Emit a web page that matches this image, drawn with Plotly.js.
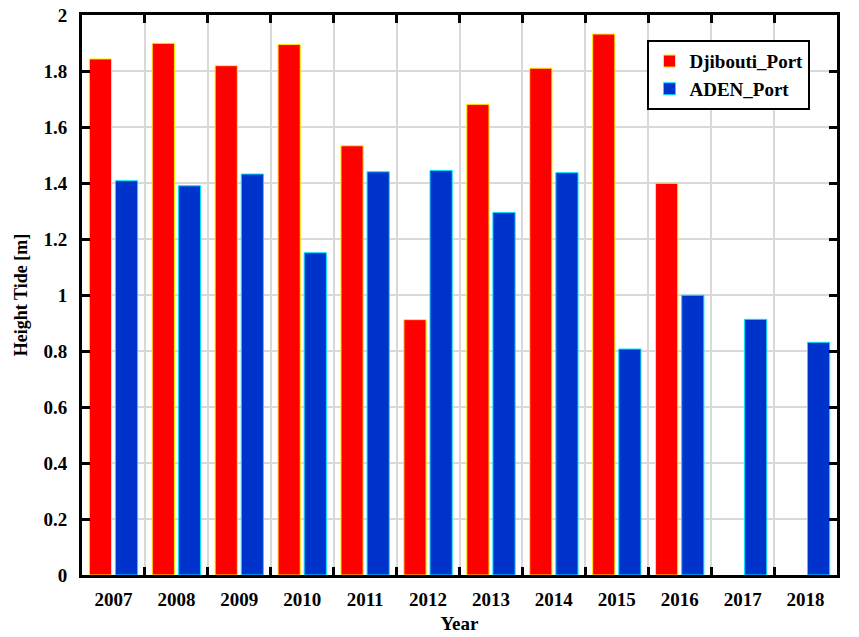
<!DOCTYPE html>
<html>
<head>
<meta charset="utf-8">
<script src="https://cdn.plot.ly/plotly-3.0.1.min.js"></script>
<style>
  html, body { margin: 0; padding: 0; background: #fff; }
  #graph { width: 859px; height: 637px; }
</style>
</head>
<body>
<div id="graph"></div>
<script>
// years on the x axis
var years = ['2007', '2008', '2009', '2010', '2011', '2012', '2013', '2014', '2015', '2016', '2017', '2018'];

// tide heights [m]
var djibouti = [1.843, 1.899, 1.819, 1.895, 1.533, 0.912, 1.681, 1.810, 1.932, 1.399, null, null];
var aden     = [1.408, 1.390, 1.432, 1.151, 1.440, 1.445, 1.295, 1.437, 0.807, 0.999, 0.913, 0.831];

var yTicks = [0, 0.2, 0.4, 0.6, 0.8, 1, 1.2, 1.4, 1.6, 1.8, 2];

function plot(){
    var trace1 = {
        x: years,
        y: djibouti,
        type: 'bar',
        name: 'Djibouti_Port',
        marker: { color: '#ff0000', line: { color: '#ffee00', width: 1 } }
    };

    var trace2 = {
        x: years,
        y: aden,
        type: 'bar',
        name: 'ADEN_Port',
        marker: { color: '#0033cc', line: { color: '#00e5ff', width: 1 } }
    };

    var font = { family: '"Liberation Serif", "Times New Roman", serif', color: '#000' };

    var layout = {
        width: 859,
        height: 637,
        margin: { l: 82, r: 22, t: 15, b: 62 },
        paper_bgcolor: '#fff',
        plot_bgcolor: '#fff',
        barmode: 'group',
        bargap: 0.17,
        bargroupgap: 0.15,
        showlegend: true,
        font: { family: font.family, color: '#000', size: 18 },
        legend: {
            x: 0.749, y: 0.955, xanchor: 'left', yanchor: 'top',
            bgcolor: '#fff', bordercolor: '#000', borderwidth: 2,
            font: { family: font.family, size: 19, color: '#000', weight: 'bold' },
            tracegroupgap: 2
        },
        xaxis: {
            type: 'category',
            tickson: 'boundaries',
            ticks: 'inside', ticklen: 8, tickwidth: 3, tickcolor: '#000',
            showline: true, linecolor: '#000', linewidth: 3, mirror: 'allticks',
            showgrid: true, gridcolor: '#d9d9d9', gridwidth: 2,
            tickfont: { family: font.family, size: 19, color: '#000', weight: 'bold' },
            ticklabelstandoff: 5,
            title: { text: 'Year', standoff: 8, font: { family: font.family, size: 19, color: '#000', weight: 'bold' } }
        },
        yaxis: {
            range: [0, 2],
            tickvals: yTicks,
            ticktext: yTicks.map(String),
            ticks: 'inside', ticklen: 8, tickwidth: 3, tickcolor: '#000',
            showline: true, linecolor: '#000', linewidth: 3, mirror: 'allticks',
            showgrid: true, gridcolor: '#d9d9d9', gridwidth: 2,
            zeroline: false,
            tickfont: { family: font.family, size: 19, color: '#000', weight: 'bold' },
            ticklabelstandoff: 8,
            title: { text: 'Height Tide [m]', standoff: 12, font: { family: font.family, size: 18, color: '#000', weight: 'bold' } }
        }
    };

    Plotly.newPlot('graph', [trace1, trace2], layout, { staticPlot: true });
}

plot();
</script>
</body>
</html>
